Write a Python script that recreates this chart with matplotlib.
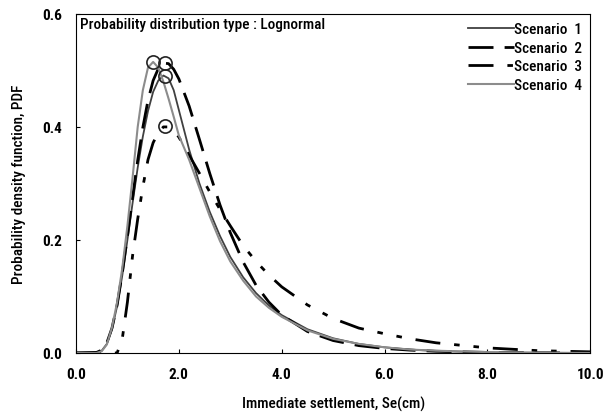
"""Lognormal PDF of immediate settlement for four scenarios."""

import matplotlib
matplotlib.use("Agg")
import matplotlib.pyplot as plt

plt.rcParams["font.family"] = ["Roboto Condensed", "Roboto", "DejaVu Sans"]

# settlement (cm)
x = [0.0, 0.4, 0.5, 0.6, 0.7, 0.8, 0.9, 1.0, 1.1, 1.2, 1.3, 1.4, 1.5, 1.6, 1.7, 1.8,
     1.9, 2.0, 2.2, 2.4, 2.6, 2.8, 3.0, 3.25, 3.5, 3.75, 4.0, 4.5, 5.0, 5.5, 6.0,
     6.5, 7.0, 8.0, 9.0, 10.0]

scenario1 = [0.0, 0.0, 0.004, 0.016, 0.042, 0.083, 0.137, 0.200, 0.265, 0.328, 0.383,
             0.428, 0.462, 0.482, 0.491, 0.486, 0.465, 0.430, 0.360, 0.300, 0.250,
             0.207, 0.170, 0.134, 0.106, 0.084, 0.067, 0.042, 0.026, 0.016, 0.010,
             0.006, 0.0035, 0.001, 0.0003, 0.0]
scenario2 = [0.0, 0.001, 0.005, 0.018, 0.044, 0.085, 0.141, 0.206, 0.275, 0.341, 0.399,
             0.447, 0.482, 0.503, 0.513, 0.512, 0.502, 0.485, 0.437, 0.378, 0.318,
             0.262, 0.213, 0.161, 0.120, 0.090, 0.067, 0.038, 0.022, 0.013, 0.008,
             0.005, 0.003, 0.001, 0.0003, 0.0]
scenario3 = [0.0, 0.0, 0.0, 0.0, 0.0, 0.0, 0.025, 0.090, 0.172, 0.237, 0.294, 0.342,
             0.372, 0.390, 0.400, 0.400, 0.393, 0.382, 0.350, 0.318, 0.285, 0.254,
             0.225, 0.190, 0.162, 0.138, 0.117, 0.085, 0.061, 0.044, 0.034, 0.025,
             0.018, 0.009, 0.004, 0.002]
scenario4 = [0.0, 0.0, 0.003, 0.015, 0.045, 0.090, 0.150, 0.225, 0.310, 0.400, 0.465,
             0.505, 0.515, 0.505, 0.480, 0.450, 0.418, 0.385, 0.342, 0.292, 0.242,
             0.198, 0.162, 0.128, 0.100, 0.080, 0.064, 0.040, 0.025, 0.016, 0.010,
             0.006, 0.004, 0.0015, 0.0005, 0.0]

# peak markers (open circles)
peak_x = [1.74, 1.74, 1.74, 1.49]
peak_y = [0.491, 0.513, 0.401, 0.515]

labels = ["Scenario  1", "Scenario  2", "Scenario  3", "Scenario  4"]

fig = plt.figure(figsize=(6.03, 4.14), dpi=100)
ax = fig.add_axes([0.126, 0.145, 0.853, 0.819])

ax.plot(x, scenario1, color="#404040", lw=1.3, label=labels[0])
ax.plot(x, scenario2, color="black", lw=2.0, dashes=(9, 4), label=labels[1])
ax.plot(x, scenario3, color="black", lw=2.0, dashes=(9, 5, 2, 5, 2, 5), label=labels[2])
ax.plot(x, scenario4, color="#8c8c8c", lw=1.5, label=labels[3])

ax.plot(peak_x, peak_y, "o", ms=9.5, mfc="none", mec="#222222", mew=1.2, ls="none")

ax.set_xlim(0, 10)
ax.set_ylim(0, 0.6)
ax.set_xticks([0, 2, 4, 6, 8, 10])
ax.set_xticklabels(["0.0", "2.0", "4.0", "6.0", "8.0", "10.0"])
ax.set_yticks([0.0, 0.2, 0.4, 0.6])
ax.set_yticklabels(["0.0", "0.2", "0.4", "0.6"])
ax.tick_params(direction="in", length=3, labelsize=11, pad=10)
for t in ax.get_xticklabels() + ax.get_yticklabels():
    t.set_fontweight("bold")

ax.set_xlabel("Immediate settlement, Se(cm)", fontsize=11, fontweight="medium", labelpad=11)
ax.set_ylabel("Probability density function, PDF", fontsize=11, fontweight="medium",
              labelpad=12)

ax.text(0.008, 0.99, "Probability distribution type : Lognormal", transform=ax.transAxes,
        ha="left", va="top", fontsize=11, fontweight="medium")

leg = ax.legend(loc="upper right", frameon=False, fontsize=11, handlelength=3.0,
                handletextpad=0.0, labelspacing=0.3, borderaxespad=0.15)
for t in leg.get_texts():
    t.set_fontweight("medium")

fig.savefig("out.png", dpi=100)
